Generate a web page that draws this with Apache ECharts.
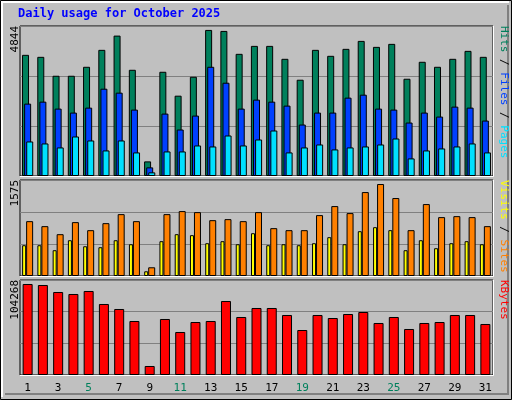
<!DOCTYPE html><html><head><meta charset="utf-8"><script src="https://cdn.jsdelivr.net/npm/echarts@6/dist/echarts.min.js"></script>
<style>html,body{margin:0;padding:0;background:#c0c0c0}#c{width:512px;height:400px}</style></head><body><div id="c"></div><script>
const days=[];for(let i=1;i<=31;i++)days.push(String(i));
const weekendDays=['4','5','11','12','18','19','25','26'];
const hits=[3913,3848,3237,3237,3527,4074,4534,3430,472,3366,2594,3205,4717,4685,3945,4202,4202,3784,3109,4074,3881,4106,4363,4170,4267,3141,3688,3527,3784,4041,3848];
const files=[2337,2401,2176,2048,2208,2819,2691,2144,279,2015,1501,1951,3527,3012,2176,2466,2401,2273,1662,2048,2048,2530,2626,2176,2144,1726,2048,1919,2240,2208,1790];
const pages=[1115,1051,922,1276,1147,825,1147,761,118,793,793,986,954,1308,986,1179,1469,761,922,1018,858,922,954,1018,1211,568,825,890,954,1051,761];
const visits=[900,818,686,884,752,867,1015,900,143,1015,1065,1048,916,933,900,1048,785,752,752,999,1147,1032,1377,1509,1279,752,1180,966,982,966,818];
const sites=[505,505,423,587,488,472,587,521,77,571,686,670,538,571,521,702,505,521,505,538,637,521,735,801,752,423,587,456,538,571,521];
const kbytes=[99890,98790,91100,88910,92200,77930,72440,59270,9880,61470,47200,58170,59270,81220,63660,73540,73540,65860,49390,65860,62560,66950,69150,57080,63660,50490,57080,58170,65860,65860,55980];
const maxLabels=[4844,1575,104268];
const F='DejaVu Sans Mono';
const grids=[{top:26,height:150},{top:180,height:96},{top:280,height:95}];
const G=grids.map(g=>({left:20,width:473,top:g.top,height:g.height,show:true,backgroundColor:'#c0c0c0',borderColor:'#000',borderWidth:1}));
const xA=grids.map((g,i)=>({type:'category',gridIndex:i,data:days,axisLine:{show:false},axisTick:{show:false},
 axisLabel:{show:i===2,fontFamily:F,fontSize:11,margin:8,color:(v)=>weekendDays.includes(v)?'#00805c':'#000'}}));
const yA=maxLabels.map((m,i)=>({type:'value',gridIndex:i,min:0,max:m,interval:m/3,axisLabel:{show:false},axisLine:{show:false},axisTick:{show:false},
 splitLine:{show:true,lineStyle:{color:'#808080',width:1}}}));
const bs={borderColor:'#000',borderWidth:1};
const series=[
 {type:'bar',xAxisIndex:0,yAxisIndex:0,data:hits,barWidth:7,barGap:'-70%',itemStyle:{color:'#00805c',...bs}},
 {type:'bar',xAxisIndex:0,yAxisIndex:0,data:files,barWidth:7,barGap:'-70%',itemStyle:{color:'#0040ff',...bs}},
 {type:'bar',xAxisIndex:0,yAxisIndex:0,data:pages,barWidth:7,barGap:'-70%',itemStyle:{color:'#00e0ff',...bs}},
 {type:'bar',xAxisIndex:1,yAxisIndex:1,data:sites,barWidth:4,barGap:'0%',itemStyle:{color:'#ffff00',...bs}},
 {type:'bar',xAxisIndex:1,yAxisIndex:1,data:visits,barWidth:7,barGap:'0%',itemStyle:{color:'#ff8000',...bs}},
 {type:'bar',xAxisIndex:2,yAxisIndex:2,data:kbytes,barWidth:10,itemStyle:{color:'#ff0000',...bs}}
];
const graphic=[
 {type:'rect',shape:{x:0.5,y:0.5,width:511,height:399},style:{fill:'none',stroke:'#000',lineWidth:1},z:-1},
 {type:'polyline',shape:{points:[[2,397],[2,2],[509,2]]},style:{stroke:'#fff',lineWidth:2,fill:'none'}},
 {type:'polyline',shape:{points:[[5,394],[508,394],[508,5]]},style:{stroke:'#808080',lineWidth:2,fill:'none'}},
 {type:'text',left:18,top:8,style:{text:'Daily usage for October 2025',font:'bold 12px "'+F+'"',fill:'#0000ff'}}
];
grids.forEach((g,i)=>{
 graphic.push({type:'polyline',shape:{points:[[20,g.top+g.height+0.5],[493.5,g.top+g.height+0.5],[493.5,g.top]]},style:{stroke:'#fff',lineWidth:1,fill:'none'},z:100});
 graphic.push({type:'text',x:10,y:g.top,rotation:Math.PI/2,style:{text:String(maxLabels[i]),font:'11px "'+F+'"',fill:'#000',align:'right',verticalAlign:'top'}});
});
function side(y,parts){graphic.push({type:'text',x:498,y:y,rotation:Math.PI/2,style:{rich:{a:{fill:parts[0][1]},b:{fill:parts[1][1]},c:{fill:parts[2]?parts[2][1]:'#000'},s:{fill:'#000'}},
 text:parts.map((p,k)=>'{'+'abc'[k]+'|'+p[0]+'}').join('{s|/}'),font:'11px "'+F+'"',align:'right',verticalAlign:'top'}});}
graphic.push({type:'text',x:498,y:26,rotation:Math.PI/2,style:{text:'',font:'11px'}});
[[26,[['Hits','#00805c'],['Files','#0040ff'],['Pages','#00e0ff']]],[180,[['Visits','#ffff00'],['Sites','#ff8000']]],[280,[['KBytes','#ff0000']]]].forEach(([y,p])=>{
 const rich={s:{fill:'#000',font:'11px "'+F+'"'}};const parts=[];
 p.forEach((q,k)=>{rich['p'+k]={fill:q[1],font:'11px "'+F+'"'};parts.push('{p'+k+'|'+q[0]+'}');});
 graphic.push({type:'text',x:498,y:y,rotation:-Math.PI/2,style:{rich:rich,text:parts.join('{s| / }'),align:'left',verticalAlign:'bottom'}});
});
const ch=echarts.init(document.getElementById('c'),null,{renderer:'canvas'});
ch.setOption({animation:false,backgroundColor:'#c0c0c0',grid:G,xAxis:xA,yAxis:yA,series:series,graphic:graphic});
</script></body></html>
